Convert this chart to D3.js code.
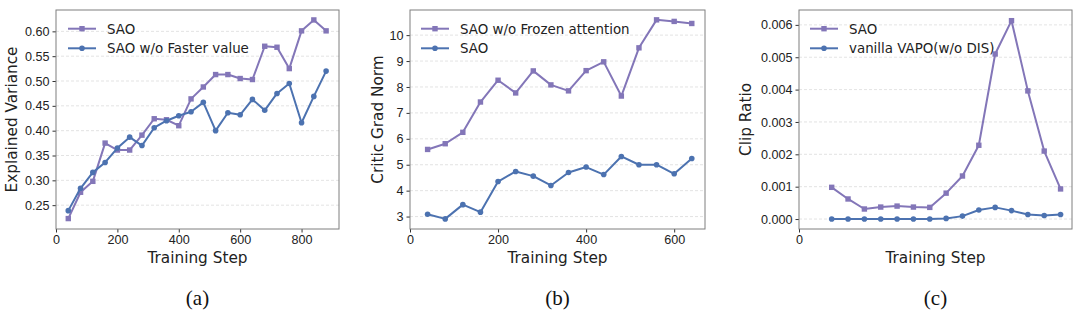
<!DOCTYPE html>
<html>
<head>
<meta charset="utf-8">
<script src="https://cdn.jsdelivr.net/npm/d3@7"></script>
<style>
  body { margin: 0; background: #fff; }
  svg { display: block; font-family: "DejaVu Sans", sans-serif; }
  .grid line { stroke: #dcdcdc; stroke-dasharray: 3,2; stroke-width: 0.8; }
  .axis path, .axis line { stroke: #333; }
  .axis text { fill: #222; font-size: 12.6px; }
  .frame { fill: none; stroke: #7f7f7f; stroke-width: 1; }
  .alabel { font-size: 15.3px; fill: #222; }
  .legend text { font-size: 13.4px; fill: #222; }
  .caption { font-family: "Liberation Serif", "Times New Roman", serif; font-size: 21px; fill: #111; }
</style>
</head>
<body>
<svg id="chart" width="1080" height="313"></svg>
<script>
var purple = "#8376B8", blue = "#4C72B0";

// (a) explained variance
var stepsA = [40,80,120,160,200,240,280,320,360,400,440,480,520,560,600,640,680,720,760,800,840,880];
var saoA = [0.223,0.276,0.298,0.375,0.361,0.361,0.391,0.424,0.422,0.410,0.464,0.488,0.513,0.513,0.505,0.503,0.570,0.568,0.525,0.601,0.623,0.601];
var fasterA = [0.239,0.284,0.316,0.336,0.365,0.387,0.370,0.406,0.420,0.430,0.438,0.457,0.400,0.436,0.432,0.463,0.441,0.475,0.495,0.416,0.469,0.520];
var xTicksA = [0,200,400,600,800];
var yTicksA = [0.25,0.30,0.35,0.40,0.45,0.50,0.55,0.60];

// (b) critic grad norm
var stepsB = [40,80,120,160,200,240,280,320,360,400,440,480,520,560,600,640];
var frozenB = [5.59,5.81,6.25,7.42,8.26,7.77,8.62,8.08,7.85,8.63,8.97,7.65,9.51,10.59,10.53,10.45];
var saoB = [3.09,2.91,3.46,3.17,4.35,4.74,4.56,4.20,4.70,4.91,4.62,5.32,5.00,5.00,4.65,5.24];
var xTicksB = [0,200,400,600];
var yTicksB = [3,4,5,6,7,8,9,10];

// (c) clip ratio
var stepsC = [80,120,160,200,240,280,320,360,400,440,480,520,560,600,640];
var saoC = [0.00098,0.00062,0.00031,0.00037,0.00040,0.00037,0.00036,0.00080,0.00133,0.00228,0.00510,0.00613,0.00396,0.00210,0.00093];
var vapoC = [0,0,0,0,0,0,0,0.00002,0.00009,0.00028,0.00036,0.00026,0.00014,0.00011,0.00014];
var xTicksC = [0];
var yTicksC = [0,0.001,0.002,0.003,0.004,0.005,0.006];

var svg = d3.select("#chart");

function panel(p) {
  var top = 10, bottom = 229;
  var x = d3.scaleLinear().domain(p.xd).range([p.left, p.right]);
  var y = d3.scaleLinear().domain(p.yd).range([bottom, top]);
  var g = svg.append("g");

  g.append("g").attr("class", "grid")
    .selectAll("line").data(p.yt).enter().append("line")
    .attr("x1", p.left).attr("x2", p.right)
    .attr("y1", function(d) { return y(d); }).attr("y2", function(d) { return y(d); });

  var xa = g.append("g").attr("class", "axis")
    .attr("transform", "translate(0," + bottom + ")")
    .call(d3.axisBottom(x).tickValues(p.xt).tickSize(3.5).tickPadding(3).tickFormat(d3.format("d")));
  xa.select(".domain").remove();

  var ya = g.append("g").attr("class", "axis")
    .attr("transform", "translate(" + p.left + ",0)")
    .call(d3.axisLeft(y).tickValues(p.yt).tickSize(3.5).tickPadding(3).tickFormat(d3.format(p.yf)));
  ya.select(".domain").remove();

  g.append("rect").attr("class", "frame")
    .attr("x", p.left).attr("y", top)
    .attr("width", p.right - p.left).attr("height", bottom - top);

  var line = d3.line().x(function(d) { return x(d[0]); }).y(function(d) { return y(d[1]); });

  p.series.forEach(function(s) {
    var pts = p.steps.map(function(st, i) { return [st, s.vals[i]]; });
    g.append("path").datum(pts)
      .attr("fill", "none").attr("stroke", s.color).attr("stroke-width", 2)
      .attr("stroke-linejoin", "round").attr("d", line);
    if (s.square) {
      g.selectAll(null).data(pts).enter().append("rect")
        .attr("x", function(d) { return x(d[0]) - 2.7; })
        .attr("y", function(d) { return y(d[1]) - 2.7; })
        .attr("width", 5.4).attr("height", 5.4).attr("fill", s.color);
    } else {
      g.selectAll(null).data(pts).enter().append("circle")
        .attr("cx", function(d) { return x(d[0]); })
        .attr("cy", function(d) { return y(d[1]); })
        .attr("r", 2.8).attr("fill", s.color);
    }
  });

  // legend
  var lg = g.append("g").attr("class", "legend");
  p.series.forEach(function(s, i) {
    var ly = 28.7 + i * 19.6;
    var lx = p.left + p.legX;
    lg.append("line").attr("x1", lx).attr("x2", lx + 28).attr("y1", ly).attr("y2", ly)
      .attr("stroke", s.color).attr("stroke-width", 2);
    if (s.square) {
      lg.append("rect").attr("x", lx + 14 - 2.7).attr("y", ly - 2.7).attr("width", 5.4).attr("height", 5.4).attr("fill", s.color);
    } else {
      lg.append("circle").attr("cx", lx + 14).attr("cy", ly).attr("r", 2.8).attr("fill", s.color);
    }
    lg.append("text").attr("x", lx + 39).attr("y", ly).attr("dy", "0.36em").text(s.name);
  });

  var cx = (p.left + p.right) / 2;
  g.append("text").attr("class", "alabel").attr("text-anchor", "middle")
    .attr("x", cx).attr("y", 257).attr("dy", "0.36em").text("Training Step");
  g.append("text").attr("class", "alabel").attr("text-anchor", "middle")
    .attr("transform", "translate(" + p.ylx + "," + (top + bottom) / 2 + ") rotate(-90)")
    .attr("dy", "0.36em").text(p.ylabel);
  g.append("text").attr("class", "caption").attr("text-anchor", "middle")
    .attr("x", cx).attr("y", 298).attr("dy", "0.35em").text(p.caption);
}

panel({
  left: 56, right: 339, xd: [0, 922], yd: [0.202, 0.643],
  xt: xTicksA, yt: yTicksA, yf: ".2f", steps: stepsA,
  series: [
    {name: "SAO", vals: saoA, color: purple, square: true},
    {name: "SAO w/o Faster value", vals: fasterA, color: blue, square: false}
  ],
  legX: 12, ylx: 11, ylabel: "Explained Variance", caption: "(a)"
});

panel({
  left: 410, right: 705, xd: [0, 670], yd: [2.52, 10.97],
  xt: xTicksB, yt: yTicksB, yf: "d", steps: stepsB,
  series: [
    {name: "SAO w/o Frozen attention", vals: frozenB, color: purple, square: true},
    {name: "SAO", vals: saoB, color: blue, square: false}
  ],
  legX: 11, ylx: 377, ylabel: "Critic Grad Norm", caption: "(b)"
});

panel({
  left: 799, right: 1072, xd: [0, 668], yd: [-0.000308, 0.00646],
  xt: xTicksC, yt: yTicksC, yf: ".3f", steps: stepsC,
  series: [
    {name: "SAO", vals: saoC, color: purple, square: true},
    {name: "vanilla VAPO(w/o DIS)", vals: vapoC, color: blue, square: false}
  ],
  legX: 11, ylx: 745, ylabel: "Clip Ratio", caption: "(c)"
});
</script>
</body>
</html>
